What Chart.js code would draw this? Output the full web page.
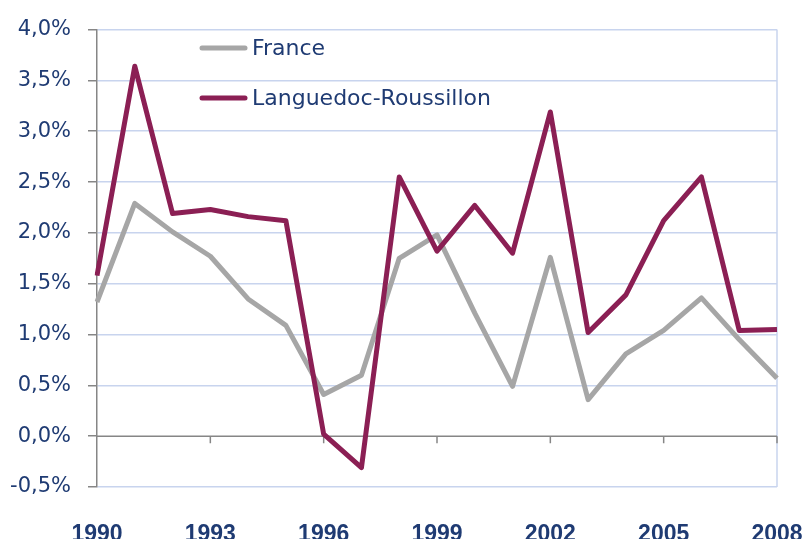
<!DOCTYPE html>
<html>
<head>
<meta charset="utf-8">
<script src="https://cdn.jsdelivr.net/npm/chart.js@4"></script>
<style>
	html, body { margin: 0; padding: 0; background: #fff; }
	#wrap { width: 806px; height: 539px; }
</style>
</head>
<body>
<div id="wrap"><canvas id="growth" width="806" height="539"></canvas></div>
<script>
const years = ['1990', '1991', '1992', '1993', '1994', '1995', '1996', '1997', '1998', '1999',
	'2000', '2001', '2002', '2003', '2004', '2005', '2006', '2007', '2008'];
const france = [1.32, 2.29, 2.01, 1.77, 1.35, 1.09, 0.41, 0.60, 1.75, 1.98,
	1.21, 0.49, 1.76, 0.36, 0.81, 1.04, 1.36, 0.95, 0.57];
const languedoc = [1.58, 3.64, 2.19, 2.23, 2.16, 2.12, 0.02, -0.31, 2.55, 1.82,
	2.27, 1.80, 3.19, 1.02, 1.39, 2.12, 2.55, 1.04, 1.05];
const seriesNames = ['France', 'Languedoc-Roussillon'];

const textBlue = '#1F3B73';
const gridBlue = '#C8D4EE';
const axisGrey = '#868686';

const ctx = document.getElementById('growth').getContext('2d');

// zero line ticks + right border + legend drawn by hand
const extras = {
	id: 'extras',
	beforeDatasetsDraw(chart) {
		const c = chart.ctx;
		const x = chart.scales.x;
		const y = chart.scales.y;
		const y0 = y.getPixelForValue(0);
		c.save();
		c.strokeStyle = gridBlue;
		c.lineWidth = 1.5;
		c.beginPath();
		c.moveTo(chart.chartArea.right, chart.chartArea.top);
		c.lineTo(chart.chartArea.right, chart.chartArea.bottom);
		c.stroke();
		c.strokeStyle = axisGrey;
		c.lineWidth = 1.5;
		c.beginPath();
		c.moveTo(chart.chartArea.left, y0);
		c.lineTo(chart.chartArea.right, y0);
		for (let i = 3; i < years.length; i += 3) {
			const px = x.getPixelForValue(i);
			c.moveTo(px, y0);
			c.lineTo(px, y0 + 7);
		}
		c.stroke();
		c.restore();
	},
	afterDraw(chart) {
		const c = chart.ctx;
		const items = [
			{name: seriesNames[0], color: '#A6A6A6', y: 48},
			{name: seriesNames[1], color: '#8B1F54', y: 98}
		];
		c.save();
		c.font = '22px "DejaVu Sans", sans-serif';
		c.textBaseline = 'middle';
		c.lineCap = 'round';
		c.lineWidth = 5;
		for (const it of items) {
			c.strokeStyle = it.color;
			c.beginPath();
			c.moveTo(202, it.y);
			c.lineTo(245, it.y);
			c.stroke();
			c.fillStyle = textBlue;
			c.fillText(it.name, 252, it.y + 1);
		}
		c.restore();
	}
};

new Chart(ctx, {
	type: 'line',
	data: {
		labels: years,
		datasets: [{
			label: seriesNames[1],
			data: languedoc,
			borderColor: '#8B1F54',
			borderWidth: 5,
			borderJoinStyle: 'round',
			pointRadius: 0,
			tension: 0,
			order: 0
		}, {
			label: seriesNames[0],
			data: france,
			borderColor: '#A6A6A6',
			borderWidth: 5,
			borderJoinStyle: 'round',
			pointRadius: 0,
			tension: 0,
			order: 1
		}]
	},
	options: {
		responsive: false,
		animation: false,
		layout: {
			padding: {left: 0, right: 29, top: 25, bottom: 0}
		},
		plugins: {
			legend: {display: false},
			tooltip: {enabled: false}
		},
		scales: {
			x: {
				offset: false,
				grid: {display: false},
				border: {display: false},
				afterFit(scale) {
					scale.height = 52;
					scale.paddingLeft = 0;
					scale.paddingRight = 0;
				},
				ticks: {
					autoSkip: false,
					maxRotation: 0,
					padding: 26,
					color: textBlue,
					font: {family: '"Liberation Sans", Arial, sans-serif', size: 23, weight: 'bold'},
					callback(value, index) {
						return index % 3 === 0 ? years[index] : '';
					}
				}
			},
			y: {
				min: -0.5,
				max: 4.0,
				afterFit(scale) {
					scale.width = 97;
				},
				border: {display: true, color: axisGrey, width: 1.5},
				grid: {
					color: (c) => c.tick && c.tick.value === 0 ? 'rgba(0,0,0,0)' : gridBlue,
					lineWidth: 1.5,
					drawTicks: true,
					tickLength: 9,
					tickColor: axisGrey
				},
				ticks: {
					stepSize: 0.5,
					padding: 17,
					color: textBlue,
					font: {family: '"DejaVu Sans", sans-serif', size: 21},
					callback(value) {
						return value.toFixed(1).replace('.', ',') + '%';
					}
				}
			}
		}
	},
	plugins: [extras]
});
</script>
</body>
</html>
